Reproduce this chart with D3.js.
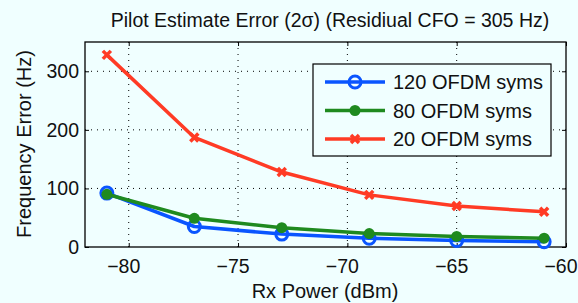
<!DOCTYPE html>
<html>
<head>
<meta charset="utf-8">
<script src="https://cdn.jsdelivr.net/npm/d3@7"></script>
<style>
  body { margin:0; background:#f0ffff; }
  text { font-family: "Liberation Sans", Arial, sans-serif; fill:#111; }
</style>
</head>
<body>
<svg id="chart" width="578" height="303"></svg>
<script>
const rxPower = [-81, -77, -73, -69, -65, -61];
const syms120 = [92, 35, 22, 15, 11, 9];
const syms80 = [90, 49, 33, 23, 18, 15];
const syms20 = [328, 187, 128, 89, 70, 60];
const seriesNames = ["120 OFDM syms", "80 OFDM syms", "20 OFDM syms"];
const xTicks = [-80, -75, -70, -65, -60];
const yTicks = [0, 100, 200, 300];

const svg = d3.select("#chart");
svg.append("rect").attr("width",578).attr("height",303).attr("fill","#f0ffff");

const m = {left:85, right:566, top:42, bottom:247};
const x = d3.scaleLinear().domain([-82,-60]).range([m.left,m.right]);
const y = d3.scaleLinear().domain([0,350]).range([m.bottom,m.top]);

// grid
const grid = svg.append("g").attr("stroke","#000").attr("stroke-width",1).attr("stroke-dasharray","1,5");
grid.selectAll(".gx").data(xTicks.slice(0,-1)).join("line")
  .attr("x1",d=>x(d)).attr("x2",d=>x(d)).attr("y1",m.top).attr("y2",m.bottom);
grid.selectAll(".gy").data(yTicks.slice(1)).join("line")
  .attr("y1",d=>y(d)).attr("y2",d=>y(d)).attr("x1",m.left).attr("x2",m.right);

// axes
const fmt = d => d < 0 ? "\u2212" + Math.abs(d) : d;
const xAxis = svg.append("g").attr("transform",`translate(0,${m.bottom})`)
  .call(d3.axisBottom(x).tickValues(xTicks).tickSize(-4).tickPadding(12).tickFormat(fmt));
const xTop = svg.append("g").attr("transform",`translate(0,${m.top})`)
  .call(d3.axisTop(x).tickValues(xTicks).tickSize(-4).tickFormat(""));
const yAxis = svg.append("g").attr("transform",`translate(${m.left},0)`)
  .call(d3.axisLeft(y).tickValues(yTicks).tickSize(-4).tickPadding(6));
const yRight = svg.append("g").attr("transform",`translate(${m.right},0)`)
  .call(d3.axisRight(y).tickValues(yTicks).tickSize(-4).tickFormat(""));
[xAxis,xTop,yAxis,yRight].forEach(a=>{
  a.select(".domain").remove();
  a.selectAll("line").attr("stroke","#000");
  a.selectAll("text").attr("font-size",19.5).attr("fill","#111");
});
xAxis.selectAll("text").attr("dx",-5.5);
svg.append("rect").attr("x",m.left).attr("y",m.top)
  .attr("width",m.right-m.left).attr("height",m.bottom-m.top)
  .attr("fill","none").attr("stroke","#000").attr("stroke-width",1.3);

const series = [
  {name:seriesNames[0], values:syms120, color:"#0a55ff", marker:"open"},
  {name:seriesNames[1], values:syms80, color:"#1f8a1f", marker:"dot"},
  {name:seriesNames[2], values:syms20, color:"#ff3b25", marker:"x"}
];

const line = d3.line().x((d,i)=>x(rxPower[i])).y(d=>y(d));

function drawMarker(g, cx, cy, s) {
  if (s.marker === "open") {
    g.append("circle").attr("cx",cx).attr("cy",cy).attr("r",6)
      .attr("fill","none").attr("stroke",s.color).attr("stroke-width",3);
  } else if (s.marker === "dot") {
    g.append("circle").attr("cx",cx).attr("cy",cy).attr("r",5.5).attr("fill",s.color);
  } else {
    g.append("path").attr("d",`M${cx-4},${cy-4}L${cx+4},${cy+4}M${cx-4},${cy+4}L${cx+4},${cy-4}`)
      .attr("stroke",s.color).attr("stroke-width",3.5);
  }
}

series.forEach(s=>{
  const g = svg.append("g");
  g.append("path").datum(s.values).attr("d",line)
    .attr("fill","none").attr("stroke",s.color).attr("stroke-width",3.5).attr("stroke-linejoin","round");
  s.values.forEach((v,i)=>drawMarker(g, x(rxPower[i]), y(v), s));
});

// legend
const lg = svg.append("g");
lg.append("rect").attr("x",313).attr("y",64).attr("width",238).attr("height",92)
  .attr("fill","#f0ffff").attr("stroke","#000").attr("stroke-width",1.2);
series.forEach((s,i)=>{
  const ly = 82 + i*28.5;
  lg.append("line").attr("x1",325).attr("x2",385).attr("y1",ly).attr("y2",ly)
    .attr("stroke",s.color).attr("stroke-width",3.5);
  drawMarker(lg, 355, ly, s);
  lg.append("text").attr("x",393).attr("y",ly+7).attr("font-size",20).text(s.name);
});

// title and labels
svg.append("text").attr("x",330).attr("y",26.5).attr("text-anchor","middle")
  .attr("font-size",19.5).text("Pilot Estimate Error (2\u03c3) (Residiual CFO = 305 Hz)");
svg.append("text").attr("x",325).attr("y",298).attr("text-anchor","middle")
  .attr("font-size",20).text("Rx Power (dBm)");
svg.append("text").attr("transform","translate(31,144) rotate(-90)").attr("text-anchor","middle")
  .attr("font-size",20).text("Frequency Error (Hz)");
</script>
</body>
</html>
